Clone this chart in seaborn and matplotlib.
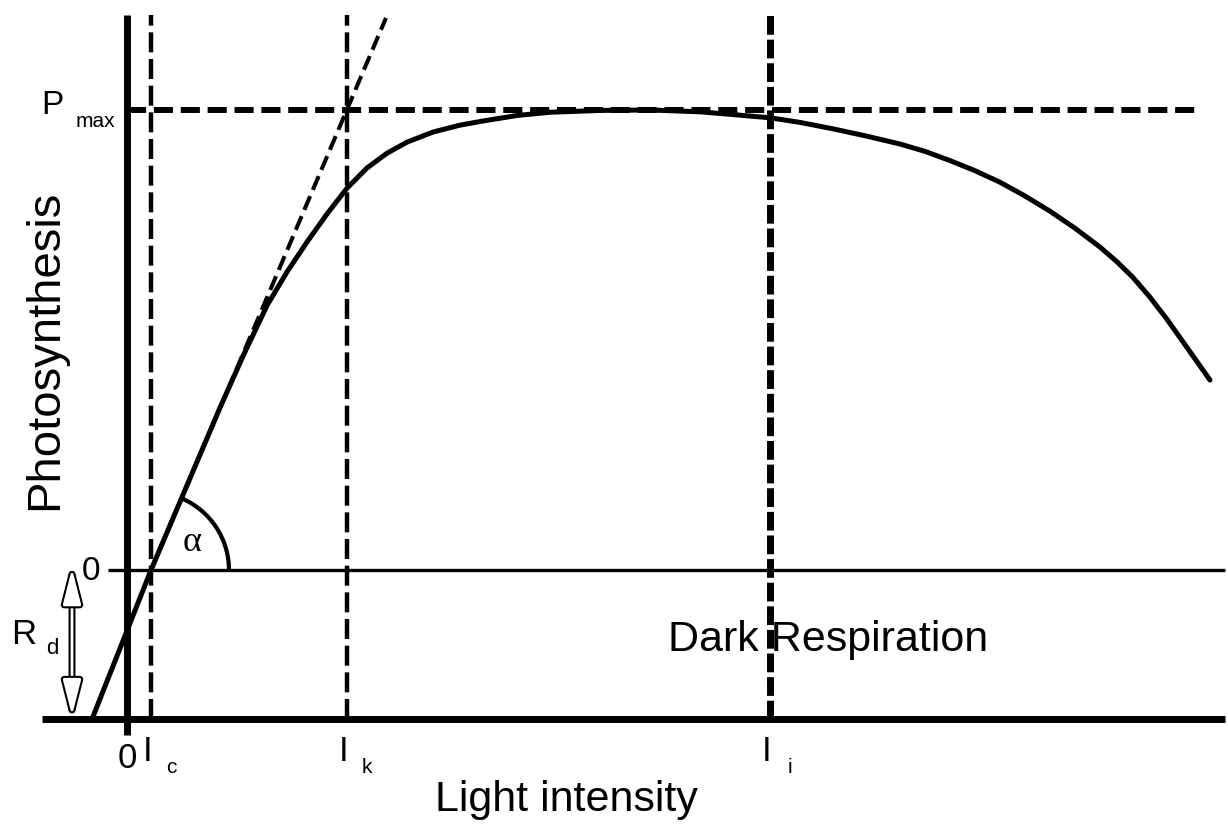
import math
import numpy as np
import pandas as pd
import matplotlib
matplotlib.use("Agg")
import matplotlib.pyplot as plt
import matplotlib.patheffects as pe
import seaborn as sns
from matplotlib.patches import Arc
from matplotlib.transforms import ScaledTranslation

# ---- data (light intensity: arbitrary units; photosynthesis: % of Pmax) ----
light = [-3.5, 2.4, 9.3, 11.6, 14.0, 16.0, 18.0, 20.0, 22.0, 24.0, 26.0, 28.0,
         30.6, 33.3, 35.6, 39.0, 42.3, 47.3, 52.3, 57.3, 60.6, 64.3, 67.3, 70.6,
         74.0, 77.3, 79.8, 82.3, 84.8, 87.3, 89.8, 92.3, 94.8, 97.3, 99.0, 100.6,
         102.3, 104.0, 105.6, 108.3]
photo = [-32.4, 0.0, 35.3, 46.5, 57.5, 64.8, 71.3, 77.4, 83.0, 87.4, 90.6, 93.0,
         95.2, 96.7, 97.6, 98.8, 99.5, 99.9, 100.0, 99.6, 99.0, 98.3, 97.3, 95.9,
         94.3, 92.6, 91.0, 89.0, 86.8, 84.3, 81.3, 78.0, 74.3, 70.2, 67.0, 63.6,
         59.3, 54.5, 49.6, 41.3]

tangent_light = [2.4, 25.9]
tangent_photo = [0.0, 120.0]

I_c = 2.4
I_k = 22.0
I_i = 64.3
P_max = 100.0
R_d = -32.4
top_level = 120.7

curve = pd.DataFrame({"light": light, "photo": photo})
tangent = pd.DataFrame({"light": tangent_light, "photo": tangent_photo})

sns.set_theme(style="white")
plt.rcParams["font.family"] = ["Liberation Sans", "DejaVu Sans"]
plt.rcParams["text.color"] = "black"

fig = plt.figure(figsize=(12.28, 8.25), dpi=100)
ax = fig.add_axes([0, 0, 1, 1])
ax.set_xlim(-12.7, 110.1)
ax.set_ylim(-55.4, 123.9)
ax.axis("off")

# axes-like lines
ax.plot([0, 0], [-35.9, top_level], color="black", lw=5, solid_capstyle="butt")
ax.plot([-8.5, 109.8], [R_d, R_d], color="black", lw=5, solid_capstyle="butt")
ax.plot([-1.9, 109.8], [0, 0], color="black", lw=2.4, solid_capstyle="butt")

# Pmax dashed line
ax.plot([0, 106.8], [P_max, P_max], color="black", lw=4.3, dashes=(3.2, 1.3))

# vertical reference lines
ax.plot([I_c, I_c], [R_d, top_level], color="black", lw=3.2, dashes=(4.5, 1.5))
ax.plot([I_k, I_k], [R_d, top_level], color="black", lw=3.2, dashes=(4.5, 1.5))
ax.plot([I_i, I_i], [R_d, top_level], color="black", lw=5, dashes=(2.7, 0.7))

# tangent (initial slope alpha)
sns.lineplot(data=tangent, x="light", y="photo", ax=ax, color="black", lw=2.9,
             linestyle=(0, (3.7, 1.7)), sort=False)

# P-I curve
sns.lineplot(data=curve, x="light", y="photo", ax=ax, color="black", lw=3.6,
             sort=False, estimator=None)

# alpha arc
p0 = ax.transData.transform((tangent_light[0], tangent_photo[0]))
p1 = ax.transData.transform((tangent_light[1], tangent_photo[1]))
ang = math.degrees(math.atan2(p1[1] - p0[1], p1[0] - p0[0]))
arc = Arc((0, 0), width=1.56, height=1.56, theta1=0, theta2=ang,
          transform=fig.dpi_scale_trans + ScaledTranslation(I_c, 0, ax.transData),
          lw=3, color="black")
ax.add_patch(arc)
ax.text(6.5, 5.9, "α", fontsize=26, family=["Liberation Serif", "DejaVu Serif"],
        ha="center", va="center")

# Rd double arrow (hollow)
ax.annotate("", xy=(-5.5, 0.3), xytext=(-5.5, R_d + 0.8),
            arrowprops=dict(arrowstyle="<|-|>,head_length=1.1,head_width=0.28",
                            lw=2, fc="white", ec="white", shrinkA=0, shrinkB=0,
                            mutation_scale=20,
                            path_effects=[pe.withStroke(linewidth=5, foreground="black")]))

# labels
ax.text(-7.5, 100.9, "P", fontsize=24, ha="center", va="center")
ax.text(-3.2, 97.4, "max", fontsize=15, ha="center", va="center")
ax.text(-3.6, -0.2, "0", fontsize=24, ha="center", va="center")
ax.text(-10.3, -13.9, "R", fontsize=25, ha="center", va="center")
ax.text(-7.5, -17.0, "d", fontsize=16, ha="center", va="center")

ax.text(0, -40.9, "0", fontsize=25, ha="center", va="center")
for xpos, sub in [(I_c, "c"), (I_k, "k"), (I_i, "i")]:
    ax.text(xpos - 0.3, -39.4, "I", fontsize=25, ha="center", va="center")
    ax.text(xpos + 2.0, -42.8, sub, fontsize=15, ha="center", va="center")

ax.text(43.9, -50.0, "Light intensity", fontsize=31, ha="center", va="center")
ax.text(-8.2, 47.8, "Photosynthesis", fontsize=34, ha="center", va="center",
        rotation=90)
ax.text(70.1, -15.2, "Dark Respiration", fontsize=31, ha="center", va="center")

fig.savefig("out.png", dpi=100, facecolor="white")
